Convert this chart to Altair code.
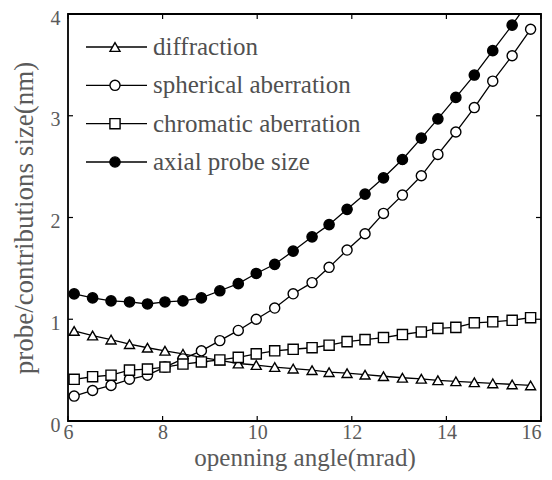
import altair as alt
import pandas as pd

# ---- data ----
angle = [6.13, 6.52, 6.91, 7.30, 7.68, 8.05, 8.43, 8.82, 9.21, 9.60, 9.98, 10.37, 10.76,
         11.16, 11.52, 11.90, 12.28, 12.67, 13.07, 13.47, 13.82, 14.20, 14.59, 14.98, 15.39, 15.78]
diffraction = [0.885, 0.84, 0.80, 0.755, 0.72, 0.69, 0.66, 0.625, 0.595, 0.565, 0.55, 0.53, 0.515,
               0.50, 0.48, 0.47, 0.455, 0.44, 0.425, 0.415, 0.40, 0.39, 0.38, 0.37, 0.36, 0.35]
spherical = [0.245, 0.30, 0.35, 0.41, 0.45, 0.53, 0.61, 0.69, 0.79, 0.89, 1.00, 1.11, 1.25,
             1.36, 1.51, 1.68, 1.84, 2.04, 2.22, 2.41, 2.62, 2.84, 3.08, 3.34, 3.59, 3.85]
chromatic = [0.41, 0.435, 0.45, 0.50, 0.51, 0.53, 0.56, 0.58, 0.60, 0.625, 0.66, 0.69, 0.705,
             0.72, 0.745, 0.78, 0.80, 0.82, 0.85, 0.875, 0.91, 0.92, 0.965, 0.975, 0.99, 1.015]
axial = [1.25, 1.21, 1.18, 1.17, 1.15, 1.17, 1.18, 1.21, 1.28, 1.35, 1.45, 1.54, 1.67,
         1.81, 1.93, 2.08, 2.23, 2.39, 2.57, 2.78, 2.97, 3.18, 3.40, 3.64, 3.89, 4.15]

series_names = ["diffraction", "spherical aberration", "chromatic aberration", "axial probe size"]
series_values = [diffraction, spherical, chromatic, axial]
shapes = ["triangle-up", "circle", "square", "circle"]
fills = ["white", "white", "white", "black"]
sizes = [100, 105, 121, 140]

x_ticks = [6, 8, 10, 12, 14, 16]
y_ticks = [0, 1, 2, 3, 4]

rows = []
for name, vals in zip(series_names, series_values):
    for a, v in zip(angle, vals):
        rows.append({"angle": a, "size": v, "series": name})
df = pd.DataFrame(rows)

leg = pd.DataFrame({"series": series_names, "row": list(range(len(series_names)))})
xt = pd.DataFrame({"t": x_ticks})
yt = pd.DataFrame({"t": y_ticks})

W, H = 473, 407
FONT = "Liberation Serif"
TXT = "#5a5a5a"

xs = alt.Scale(domain=[6, 16], nice=False)
ys = alt.Scale(domain=[0, 4], nice=False)
shape_scale = alt.Scale(domain=series_names, range=shapes)
fill_scale = alt.Scale(domain=series_names, range=fills)
size_scale = alt.Scale(domain=series_names, range=sizes)

X = alt.X("angle:Q", scale=xs,
          axis=alt.Axis(values=x_ticks, format="d", title="openning angle(mrad)",
                        labelAlign={"expr": "datum.value == 16 ? 'right' : 'center'"}))
Y = alt.Y("size:Q", scale=ys,
          axis=alt.Axis(values=y_ticks, format="d", title="probe/contributions size(nm)"))

lines = alt.Chart(df).mark_line(color="black", strokeWidth=1.3, clip=True).encode(
    x=X, y=Y, detail="series:N")
points = alt.Chart(df).mark_point(filled=True, stroke="black", strokeWidth=1.4,
                                  opacity=1, clip=True).encode(
    x="angle:Q", y="size:Q",
    shape=alt.Shape("series:N", scale=shape_scale, legend=None),
    fill=alt.Fill("series:N", scale=fill_scale, legend=None),
    size=alt.Size("series:N", scale=size_scale, legend=None))

tb = alt.Chart(xt).mark_rule(color="black", strokeWidth=1.2).encode(
    x=alt.X("t:Q", scale=xs), y=alt.value(H), y2=alt.value(H - 5))
tt = alt.Chart(xt).mark_rule(color="black", strokeWidth=1.2).encode(
    x=alt.X("t:Q", scale=xs), y=alt.value(0), y2=alt.value(5))
tl = alt.Chart(yt).mark_rule(color="black", strokeWidth=1.2).encode(
    y=alt.Y("t:Q", scale=ys), x=alt.value(0), x2=alt.value(5))
tr = alt.Chart(yt).mark_rule(color="black", strokeWidth=1.2).encode(
    y=alt.Y("t:Q", scale=ys), x=alt.value(W), x2=alt.value(W - 5))

main = alt.layer(lines, points, tb, tt, tl, tr)

LY = alt.Y("row:Q", scale=alt.Scale(domain=[0, 3], range=[33, 148]), axis=None)
leg_line = alt.Chart(leg).mark_rule(color="black", strokeWidth=1.3).encode(
    y=LY, x=alt.value(18), x2=alt.value(79))
leg_pt = alt.Chart(leg).mark_point(filled=True, stroke="black", strokeWidth=1.4,
                                   opacity=1).encode(
    y=LY, x=alt.value(47),
    shape=alt.Shape("series:N", scale=shape_scale, legend=None),
    fill=alt.Fill("series:N", scale=fill_scale, legend=None),
    size=alt.Size("series:N", scale=size_scale, legend=None))
leg_txt = alt.Chart(leg).mark_text(align="left", baseline="middle", font=FONT,
                                   fontSize=25, color="#505050", dy=0).encode(
    y=LY, x=alt.value(85), text="series:N")
legend = alt.layer(leg_line, leg_pt, leg_txt)

chart = alt.layer(main, legend).resolve_scale(y="independent").properties(
    width=W, height=H,
    autosize=alt.AutoSizeParams(type="none"),
    padding={"left": 60, "top": 6, "right": 3, "bottom": 51},
).configure_view(stroke="black", strokeWidth=1.8).configure_axis(
    grid=False, domain=False, ticks=False, tickSize=0, labelFlush=False,
    labelFont=FONT, labelFontSize=20, labelColor=TXT,
    titleFont=FONT, titleColor=TXT, titleFontWeight="normal",
).configure_axisX(labelPadding=1, titleFontSize=25, titlePadding=3
).configure_axisY(labelPadding=8, labelOffset=4, titleFontSize=27, titlePadding=12)

chart.save("out.html", embed_options={"renderer": "svg", "actions": False})
